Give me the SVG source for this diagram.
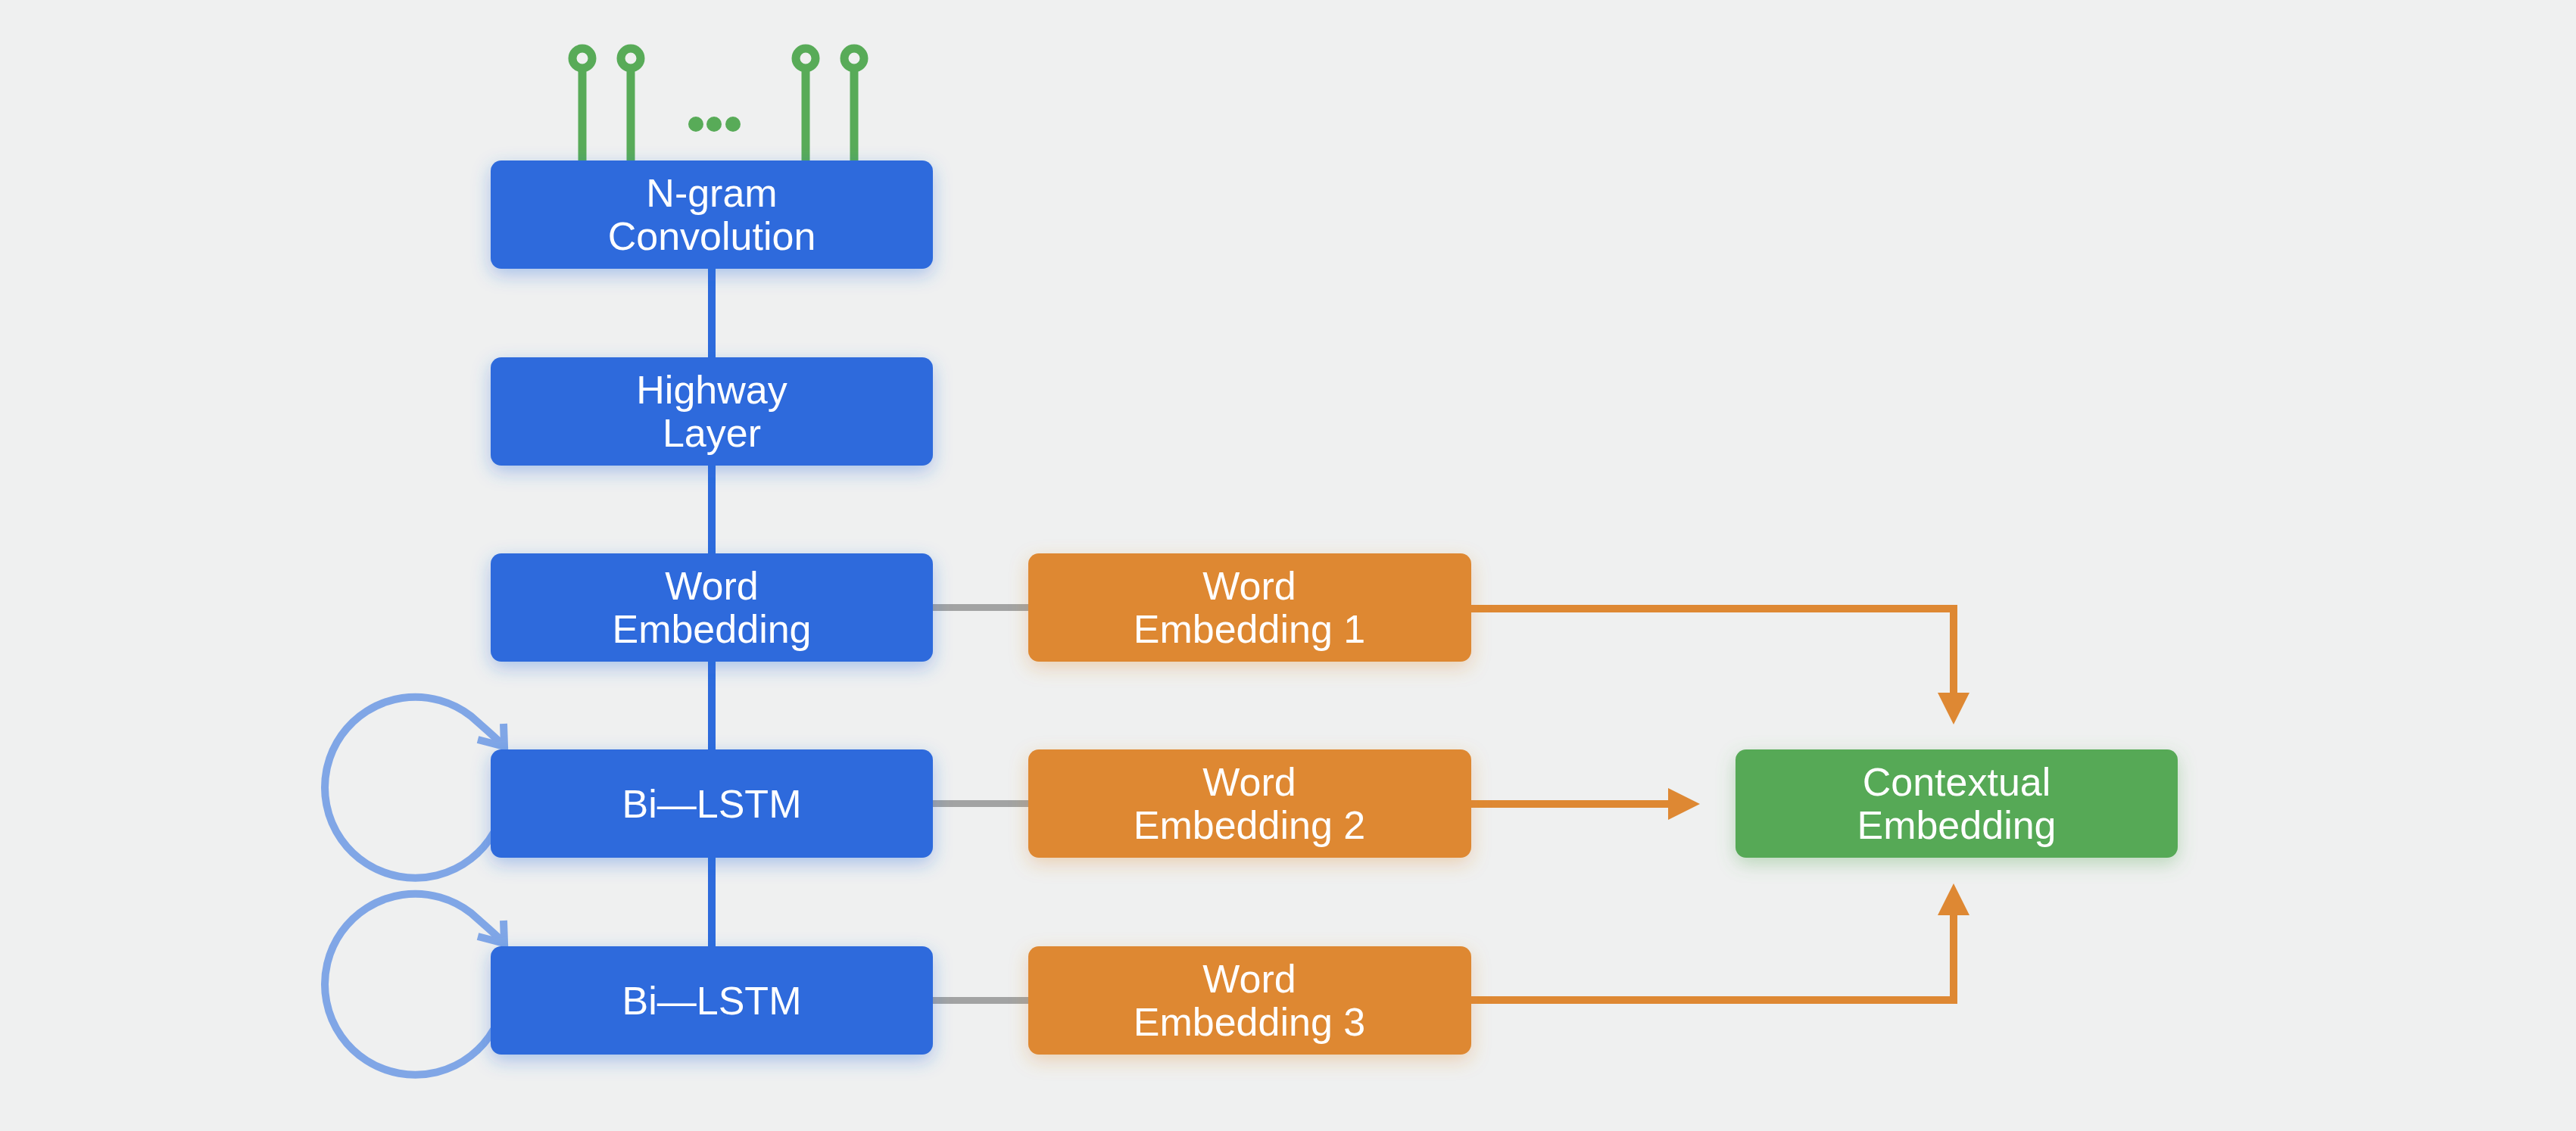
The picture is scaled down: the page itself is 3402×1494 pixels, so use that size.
<svg xmlns="http://www.w3.org/2000/svg" width="3402" height="1494" viewBox="0 0 3402 1494">
<style>
  .lbl { font-family: "Liberation Sans", Arial, sans-serif; font-size: 52px; fill: #ffffff; text-anchor: middle; }
  .blue { fill: #2e6bdc; filter: url(#shBlue); }
  .orange { fill: #de8833; filter: url(#shOrange); }
  .green { fill: #57a957; filter: url(#shGreen); }
  .trunk { stroke: #2e6bdc; stroke-width: 10; fill: none; }
  .gray { stroke: #a2a3a3; stroke-width: 9; fill: none; }
  .oarrow { stroke: #de8833; stroke-width: 10; fill: none; marker-end: url(#ahead); }
  .loop { stroke: #80a6e6; stroke-width: 10; fill: none; }
  .pin { stroke: #58ab58; stroke-width: 11; fill: none; }
  .dot { fill: #58ab58; }
</style>
<defs>
  <filter id="shBlue" x="-20%" y="-40%" width="140%" height="190%">
    <feDropShadow dx="0" dy="8" stdDeviation="12" flood-color="#2e6bdc" flood-opacity="0.35"/>
  </filter>
  <filter id="shOrange" x="-20%" y="-40%" width="140%" height="190%">
    <feDropShadow dx="0" dy="8" stdDeviation="12" flood-color="#de8833" flood-opacity="0.3"/>
  </filter>
  <filter id="shGreen" x="-20%" y="-40%" width="140%" height="190%">
    <feDropShadow dx="0" dy="8" stdDeviation="12" flood-color="#57a957" flood-opacity="0.35"/>
  </filter>
  <marker id="ahead" markerUnits="userSpaceOnUse" markerWidth="44" markerHeight="44" refX="0" refY="21" orient="auto">
    <path d="M0,0 L42,21 L0,42 Z" fill="#de8833"/>
  </marker>
</defs>
<rect x="0" y="0" width="3402" height="1494" fill="#eff0f0"/>

<g id="inputs">
  <circle class="pin" cx="769" cy="77" r="13"/>
  <line class="pin" x1="769" y1="90" x2="769" y2="214"/>
  <circle class="pin" cx="833" cy="77" r="13"/>
  <line class="pin" x1="833" y1="90" x2="833" y2="214"/>
  <circle class="pin" cx="1064" cy="77" r="13"/>
  <line class="pin" x1="1064" y1="90" x2="1064" y2="214"/>
  <circle class="pin" cx="1128" cy="77" r="13"/>
  <line class="pin" x1="1128" y1="90" x2="1128" y2="214"/>
  <circle class="dot" cx="919" cy="164" r="10"/>
  <circle class="dot" cx="943" cy="164" r="10"/>
  <circle class="dot" cx="968" cy="164" r="10"/>
</g>

<g id="connectors">
  <line class="trunk" x1="940" y1="350" x2="940" y2="1255"/>
  <line class="gray" x1="1228" y1="802.5" x2="1362" y2="802.5"/>
  <line class="gray" x1="1228" y1="1061.5" x2="1362" y2="1061.5"/>
  <line class="gray" x1="1228" y1="1321.5" x2="1362" y2="1321.5"/>
  <path class="oarrow" d="M1940,804 H2580 V915"/>
  <path class="oarrow" d="M1940,1062 H2203"/>
  <path class="oarrow" d="M1940,1321 H2580 V1209"/>
  <g id="loop1">
    <path class="loop" d="M652,1100 A119.5,119.5 0 1 1 622,946 C640,962 652,972 664,984"/>
    <polyline class="loop" points="665,956 666,986 631,977"/>
  </g>
  <g id="loop2" transform="translate(0,260)">
    <path class="loop" d="M652,1100 A119.5,119.5 0 1 1 622,946 C640,962 652,972 664,984"/>
    <polyline class="loop" points="665,956 666,986 631,977"/>
  </g>
</g>

<g id="ngram">
  <rect class="blue" x="648" y="212" width="584" height="143" rx="14"/>
  <text class="lbl" x="940" y="273">N-gram</text>
  <text class="lbl" x="940" y="330">Convolution</text>
</g>
<g id="highway">
  <rect class="blue" x="648" y="472" width="584" height="143" rx="14"/>
  <text class="lbl" x="940" y="533">Highway</text>
  <text class="lbl" x="940" y="590">Layer</text>
</g>
<g id="word-embedding">
  <rect class="blue" x="648" y="731" width="584" height="143" rx="14"/>
  <text class="lbl" x="940" y="792">Word</text>
  <text class="lbl" x="940" y="849">Embedding</text>
</g>
<g id="bilstm1">
  <rect class="blue" x="648" y="990" width="584" height="143" rx="14"/>
  <text class="lbl" x="940" y="1080">Bi—LSTM</text>
</g>
<g id="bilstm2">
  <rect class="blue" x="648" y="1250" width="584" height="143" rx="14"/>
  <text class="lbl" x="940" y="1340">Bi—LSTM</text>
</g>
<g id="we1">
  <rect class="orange" x="1358" y="731" width="585" height="143" rx="14"/>
  <text class="lbl" x="1650" y="792">Word</text>
  <text class="lbl" x="1650" y="849">Embedding 1</text>
</g>
<g id="we2">
  <rect class="orange" x="1358" y="990" width="585" height="143" rx="14"/>
  <text class="lbl" x="1650" y="1051">Word</text>
  <text class="lbl" x="1650" y="1108">Embedding 2</text>
</g>
<g id="we3">
  <rect class="orange" x="1358" y="1250" width="585" height="143" rx="14"/>
  <text class="lbl" x="1650" y="1311">Word</text>
  <text class="lbl" x="1650" y="1368">Embedding 3</text>
</g>
<g id="contextual">
  <rect class="green" x="2292" y="990" width="584" height="143" rx="14"/>
  <text class="lbl" x="2584" y="1051">Contextual</text>
  <text class="lbl" x="2584" y="1108">Embedding</text>
</g>
</svg>
